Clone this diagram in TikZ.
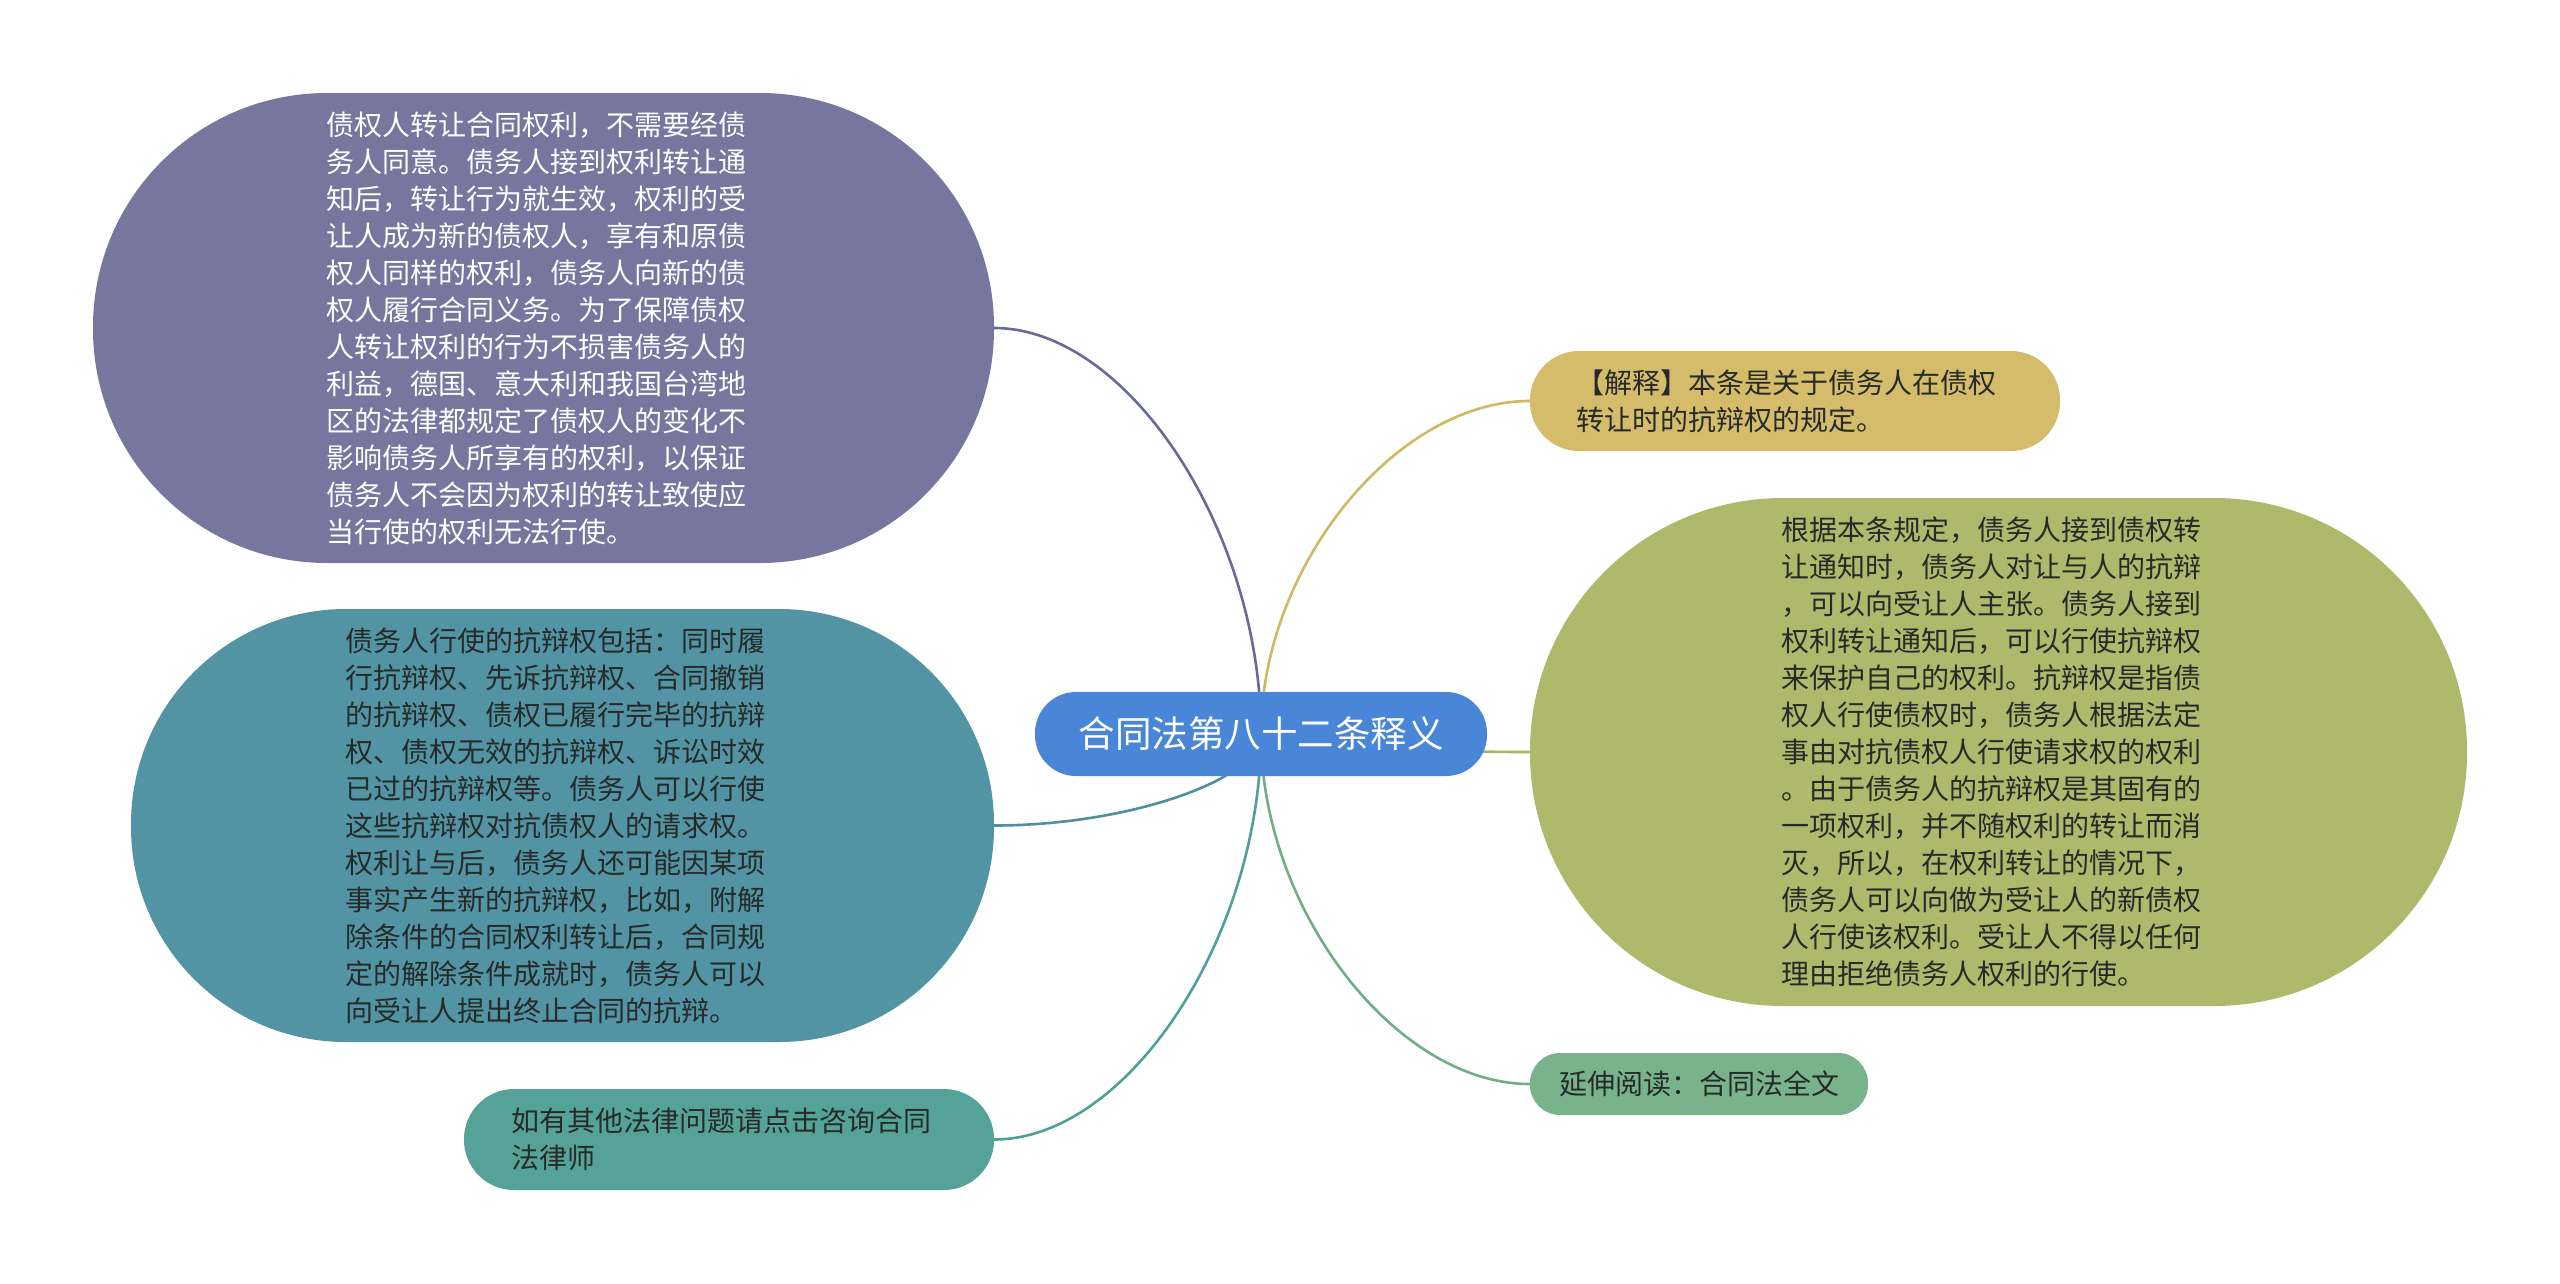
\documentclass[tikz,border=0pt]{standalone}
\usepackage{fontspec}
\setmainfont{Noto Sans CJK SC}
\usetikzlibrary{calc,backgrounds}
\definecolor{fPurple}{HTML}{77769F}
\definecolor{fTeal}{HTML}{5294A4}
\definecolor{fSea}{HTML}{55A398}
\definecolor{fRoot}{HTML}{4A86D8}
\definecolor{fGold}{HTML}{D4BC6A}
\definecolor{fOlive}{HTML}{AEB96C}
\definecolor{fGreen}{HTML}{78B38C}
\definecolor{lPurple}{HTML}{6A6A9A}
\definecolor{lTeal}{HTML}{4F8FA0}
\definecolor{lSea}{HTML}{4FA096}
\definecolor{lGold}{HTML}{D2B862}
\definecolor{lOlive}{HTML}{AAB566}
\definecolor{lGreen}{HTML}{70AE88}
\definecolor{tDark}{HTML}{262A28}
\begin{document}
\begin{tikzpicture}[x=1pt,y=-1pt,
  bubble/.style={draw=none, inner sep=0pt, align=left, text=tDark,
    font=\fontsize{28}{37}\selectfont},
  rootbox/.style={draw=none, inner sep=0pt, align=center, text=white,
    font=\fontsize{36.5}{44}\selectfont},
  conn/.style={line width=2.6pt}]
\useasboundingbox (0,0) rectangle (2560,1283);

% central topic
\node[rootbox, fill=fRoot, minimum width=452pt, minimum height=84pt, rounded corners=41pt] (root) at (1261,734) {合同法第八十二条释义};

% left branches
\node[bubble, fill=fPurple, text=white, minimum width=901pt, minimum height=470pt, rounded corners=234pt] (pu) at (543.5,328) {债权人转让合同权利，不需要经债\hspace*{14pt}\\务人同意。债务人接到权利转让通\\知后，转让行为就生效，权利的受\\让人成为新的债权人，享有和原债\\权人同样的权利，债务人向新的债\\权人履行合同义务。为了保障债权\\人转让权利的行为不损害债务人的\\利益，德国、意大利和我国台湾地\\区的法律都规定了债权人的变化不\\影响债务人所享有的权利，以保证\\债务人不会因为权利的转让致使应\\当行使的权利无法行使。};

\node[bubble, fill=fTeal, text=tDark, minimum width=863pt, minimum height=433pt, rounded corners=215pt] (te) at (562.5,825.5) {债务人行使的抗辩权包括：同时履\hspace*{14pt}\\行抗辩权、先诉抗辩权、合同撤销\\的抗辩权、债权已履行完毕的抗辩\\权、债权无效的抗辩权、诉讼时效\\已过的抗辩权等。债务人可以行使\\这些抗辩权对抗债权人的请求权。\\权利让与后，债务人还可能因某项\\事实产生新的抗辩权，比如，附解\\除条件的合同权利转让后，合同规\\定的解除条件成就时，债务人可以\\向受让人提出终止合同的抗辩。};

\node[bubble, fill=fSea, minimum width=530pt, minimum height=101pt, rounded corners=50pt] (se) at (729,1139.5) {如有其他法律问题请点击咨询合同\hspace*{16pt}\\法律师};

% right branches
\node[bubble, fill=fGold, minimum width=530pt, minimum height=100pt, rounded corners=49pt] (go) at (1795,401) {【解释】本条是关于债务人在债权\hspace*{18pt}\\转让时的抗辩权的规定。};

\node[bubble, fill=fOlive, minimum width=937pt, minimum height=508pt, rounded corners=253pt] (ol) at (1998.5,752) {根据本条规定，债务人接到债权转\hspace*{14pt}\\让通知时，债务人对让与人的抗辩\\，可以向受让人主张。债务人接到\\权利转让通知后，可以行使抗辩权\\来保护自己的权利。抗辩权是指债\\权人行使债权时，债务人根据法定\\事由对抗债权人行使请求权的权利\\。由于债务人的抗辩权是其固有的\\一项权利，并不随权利的转让而消\\灭，所以，在权利转让的情况下，\\债务人可以向做为受让人的新债权\\人行使该权利。受让人不得以任何\\理由拒绝债务人权利的行使。};

\node[bubble, fill=fGreen, minimum width=338pt, minimum height=62pt, rounded corners=30pt] (gr) at (1699,1084) {延伸阅读：合同法全文};

\begin{pgfonlayer}{background}
\fill[white] (0,0) rectangle (2560,1283);
\coordinate (m1) at ($(root.center)!0.5!(pu.east)$);
\coordinate (m2) at ($(root.center)!0.5!(te.east)$);
\coordinate (m3) at ($(root.center)!0.5!(se.east)$);
\coordinate (m4) at ($(root.center)!0.5!(go.west)$);
\coordinate (m5) at ($(root.center)!0.5!(ol.west)$);
\coordinate (m6) at ($(root.center)!0.5!(gr.west)$);
\draw[conn, lPurple] (root.center) .. controls (root.center |- m1) and (m1 |- pu.east) .. (pu.east);
\draw[conn, lTeal] (root.center) .. controls (root.center |- m2) and (m2 |- te.east) .. (te.east);
\draw[conn, lSea] (root.center) .. controls (root.center |- m3) and (m3 |- se.east) .. (se.east);
\draw[conn, lGold] (root.center) .. controls (root.center |- m4) and (m4 |- go.west) .. (go.west);
\draw[conn, lOlive] (root.center) .. controls (root.center |- m5) and (m5 |- ol.west) .. (ol.west);
\draw[conn, lGreen] (root.center) .. controls (root.center |- m6) and (m6 |- gr.west) .. (gr.west);
\end{pgfonlayer}
\end{tikzpicture}
\end{document}
